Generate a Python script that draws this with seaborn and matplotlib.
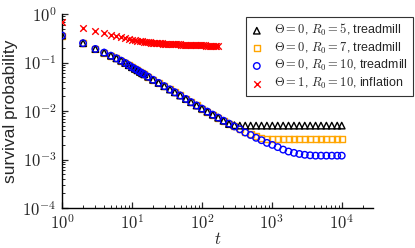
import numpy as np
import pandas as pd
import matplotlib
matplotlib.use("Agg")
import matplotlib.pyplot as plt
import seaborn as sns

# ---- data ----
t_tread = [1, 2, 3, 4, 5, 6, 7, 8, 9, 10, 11, 12, 13, 14, 15, 17, 20, 24, 29, 35,
           41, 49, 59, 70, 84, 100, 120, 143, 171, 204, 244, 292, 349, 417, 498,
           596, 712, 851, 1017, 1215, 1452, 1735, 2073, 2477, 2960, 3537, 4226,
           5050, 6034, 7210, 8616, 10000]

common_head = [0.36, 0.25, 0.19, 0.16, 0.138, 0.122, 0.109, 0.098, 0.088, 0.080,
               0.074, 0.069, 0.064, 0.060, 0.057, 0.051, 0.044, 0.038, 0.0325,
               0.0278, 0.0243, 0.0209, 0.0177, 0.0152, 0.0130, 0.0112, 0.0097,
               0.0084, 0.0073, 0.0063]

p_R5 = common_head + [0.0054, 0.0051, 0.0050, 0.0050, 0.0050, 0.0050, 0.0050,
                      0.0050, 0.0050, 0.0050, 0.0050, 0.0050, 0.0050, 0.0050,
                      0.0050, 0.0050, 0.0050, 0.0050, 0.0050, 0.0050, 0.0050,
                      0.0050]
p_R7 = common_head + [0.0055, 0.0048, 0.0042, 0.0037, 0.0033, 0.0030, 0.0028,
                      0.0027, 0.0026, 0.0026, 0.0026, 0.0026, 0.0026, 0.0026,
                      0.0026, 0.0026, 0.0026, 0.0026, 0.0026, 0.0026, 0.0026,
                      0.0026]
p_R10 = common_head + [0.0055, 0.0048, 0.0042, 0.0036, 0.0032, 0.0028, 0.0025,
                       0.0022, 0.0020, 0.0018, 0.0016, 0.00146, 0.00137, 0.0013,
                       0.00125, 0.00122, 0.0012, 0.0012, 0.0012, 0.0012, 0.0012,
                       0.0012]

t_infl = [1, 2, 3, 4, 5, 6, 7, 8, 9, 10, 11, 12, 13, 14, 15, 16, 17, 18, 19, 20,
          21, 22, 23, 24, 25, 27, 28, 30, 31, 33, 35, 37, 39, 41, 43, 46, 48, 51,
          54, 57, 60, 63, 67, 71, 75, 79, 83, 88, 93, 98, 104, 110, 116, 122, 129,
          136, 144, 152, 161, 170]
p_infl = [0.70, 0.51, 0.44, 0.40, 0.37, 0.35, 0.335, 0.32, 0.308, 0.298, 0.29,
          0.283, 0.277, 0.272, 0.268, 0.265, 0.262, 0.259, 0.257, 0.255, 0.253,
          0.252, 0.251, 0.250, 0.249, 0.247, 0.246, 0.245, 0.244, 0.243, 0.242,
          0.241, 0.240, 0.239, 0.238, 0.237, 0.236, 0.235, 0.234, 0.233, 0.232,
          0.231, 0.230, 0.229, 0.229, 0.228, 0.227, 0.227, 0.226, 0.226, 0.225,
          0.225, 0.224, 0.224, 0.223, 0.223, 0.222, 0.222, 0.221, 0.221]

labels = [r"$\Theta=0$, $R_0=5$, treadmill",
          r"$\Theta=0$, $R_0=7$, treadmill",
          r"$\Theta=0$, $R_0=10$, treadmill",
          r"$\Theta=1$, $R_0=10$, inflation"]

# ---- style ----
sns.set_style("ticks")
plt.rcParams["font.family"] = ["Liberation Sans", "DejaVu Sans"]
plt.rcParams["mathtext.fontset"] = "cm"

fig = plt.figure(figsize=(4.15, 2.48), dpi=100)
ax = fig.add_axes([62 / 415, 1 - 208 / 248, (373 - 62) / 415, (208 - 14) / 248])

s = 22
sns.scatterplot(x=t_tread, y=p_R5, ax=ax, marker="^", s=s, facecolor="none",
                edgecolor="black", linewidth=1.0, label=labels[0], zorder=3)
sns.scatterplot(x=t_tread, y=p_R7, ax=ax, marker="s", s=s * 0.85, facecolor="none",
                edgecolor="#FFA500", linewidth=1.0, label=labels[1], zorder=2)
sns.scatterplot(x=t_tread, y=p_R10, ax=ax, marker="o", s=s, facecolor="none",
                edgecolor="#0000FF", linewidth=1.0, label=labels[2], zorder=4)
sns.scatterplot(x=t_infl, y=p_infl, ax=ax, marker="x", s=s, color="#FF0000",
                linewidth=1.0, label=labels[3], zorder=5)

ax.set_xscale("log")
ax.set_yscale("log")
ax.set_xlim(1, 2.8e4)
ax.set_ylim(1e-4, 1)
ax.set_xticks([1, 10, 100, 1000, 10000])
ax.set_xticklabels([r"$10^{0}$", r"$10^{1}$", r"$10^{2}$", r"$10^{3}$", r"$10^{4}$"])
ax.set_yticks([1e-4, 1e-3, 1e-2, 1e-1, 1])
ax.set_yticklabels([r"$10^{-4}$", r"$10^{-3}$", r"$10^{-2}$", r"$10^{-1}$", r"$10^{0}$"])
ax.tick_params(which="major", direction="in", length=4, width=0.9, labelsize=12, pad=4)
ax.tick_params(which="minor", direction="in", length=2.2, width=0.7)
for sp in ["top", "right"]:
    ax.spines[sp].set_visible(False)
for sp in ["left", "bottom"]:
    ax.spines[sp].set_linewidth(1.0)
    ax.spines[sp].set_color("black")

ax.set_xlabel(r"$t$", fontsize=12, labelpad=-1)
ax.set_ylabel("survival probability", fontsize=12.5, labelpad=3)

leg = ax.legend(loc="upper right", bbox_to_anchor=(413 / 415, 1 - 17 / 248),
                bbox_transform=fig.transFigure, borderaxespad=0, fontsize=9,
                frameon=True, fancybox=False, framealpha=1, edgecolor="#333333",
                handlelength=1.0, handletextpad=0.9, labelspacing=0.2,
                borderpad=0.4)
leg.get_frame().set_linewidth(0.8)

fig.savefig("out.png", dpi=100)
